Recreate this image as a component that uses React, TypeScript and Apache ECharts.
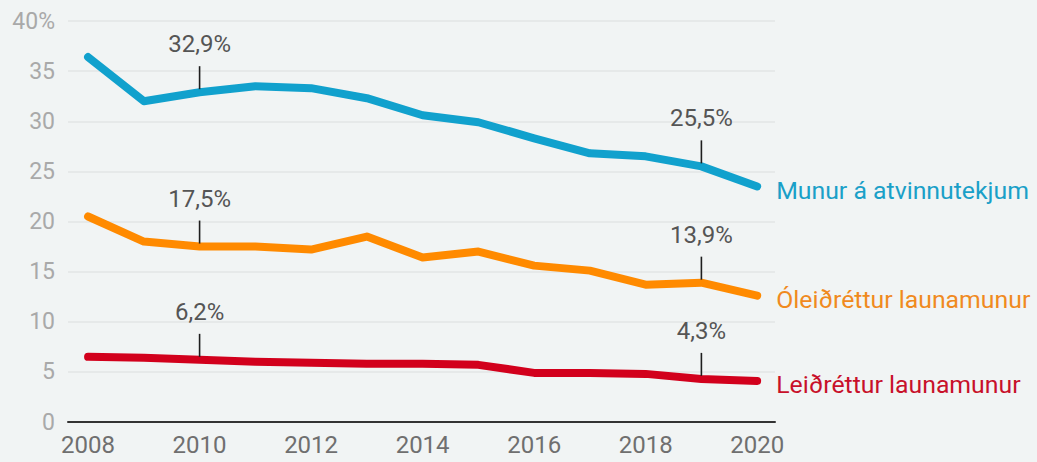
import React, { useEffect, useRef } from "react";
import * as echarts from "echarts";

const years = [2008, 2009, 2010, 2011, 2012, 2013, 2014, 2015, 2016, 2017, 2018, 2019, 2020];
const munurAtvinnutekjum = [36.4, 32.0, 32.9, 33.5, 33.3, 32.3, 30.6, 29.9, 28.3, 26.8, 26.5, 25.5, 23.5];
const oleidretturLaunamunur = [20.5, 18.0, 17.5, 17.5, 17.2, 18.5, 16.4, 17.0, 15.6, 15.1, 13.7, 13.9, 12.6];
const leidretturLaunamunur = [6.5, 6.4, 6.2, 6.0, 5.9, 5.8, 5.8, 5.7, 4.9, 4.9, 4.8, 4.3, 4.1];
const seriesNames = ["Munur á atvinnutekjum", "Óleiðréttur launamunur", "Leiðréttur launamunur"];
const xTickLabels = [2008, 2010, 2012, 2014, 2016, 2018, 2020];
const annotatedYears = [2010, 2019];

const lineColors = ["#11a1cd", "#ff8a00", "#d2001c"];
const labelColors = ["#1aa0c8", "#f08a1e", "#c8102a"];

export default function App() {
  const ref = useRef<HTMLDivElement>(null);
  useEffect(() => {
    if (!ref.current) return;
    const chart = echarts.init(ref.current, null, { renderer: "svg" });
    const allSeries = [munurAtvinnutekjum, oleidretturLaunamunur, leidretturLaunamunur];
    const annotations: { year: number; value: number }[] = [];
    allSeries.forEach((s) => {
      annotatedYears.forEach((y) => {
        annotations.push({ year: y, value: s[years.indexOf(y)] });
      });
    });
    const fmt = (v: number) => v.toFixed(1).replace(".", ",") + "%";

    const lineSeries = allSeries.map((s, i) => ({
      type: "line",
      name: seriesNames[i],
      data: years.map((y, j) => [y, s[j]]),
      showSymbol: false,
      symbol: "none",
      lineStyle: { color: lineColors[i], width: 8, cap: "round", join: "round" },
      itemStyle: { color: lineColors[i] },
      endLabel: {
        show: true,
        formatter: seriesNames[i],
        color: labelColors[i],
        fontSize: 24.8,
        fontFamily: "Roboto",
        offset: [11, 4],
      },
      z: 2,
    }));

    chart.setOption({
      animation: false,
      backgroundColor: "#f1f4f4",
      textStyle: { fontFamily: "Roboto" },
      grid: { left: 68, right: 262, top: 21, bottom: 40, containLabel: false },
      xAxis: {
        type: "value",
        min: 2007.64,
        max: 2020.32,
        axisLine: { show: true, lineStyle: { color: "#333", width: 2 } },
        axisTick: { show: false },
        splitLine: { show: false },
        axisLabel: {
          customValues: xTickLabels,
          formatter: (v: number) => String(v),
          color: "#6f6f6f",
          fontSize: 24,
          margin: 11,
          fontFamily: "Roboto",
        },
      },
      yAxis: {
        type: "value",
        min: 0,
        max: 40,
        interval: 5,
        axisLine: { show: false },
        axisTick: { show: false },
        splitLine: { lineStyle: { color: "#e2e6e6", width: 1.5 } },
        axisLabel: {
          formatter: (v: number) => (v === 40 ? "40%" : String(v)),
          color: "#a9a9a9",
          fontSize: 23,
          margin: 13,
          fontFamily: "Roboto",
        },
      },
      series: [
        ...lineSeries,
        {
          type: "custom",
          data: annotations.map((a) => [a.year, a.value]),
          z: 5,
          renderItem: (params: any, api: any) => {
            const p = api.coord([api.value(0), api.value(1)]);
            const a = annotations[params.dataIndex];
            return {
              type: "group",
              children: [
                {
                  type: "line",
                  shape: { x1: p[0], y1: p[1] - 3, x2: p[0], y2: p[1] - 26 },
                  style: { stroke: "#1e1e1e", lineWidth: 1.6 },
                },
                {
                  type: "text",
                  x: p[0],
                  y: p[1] - 48,
                  style: {
                    text: fmt(a.value),
                    align: "center",
                    verticalAlign: "middle",
                    fontSize: 24,
                    fontFamily: "Roboto",
                    fill: "#555555",
                  },
                },
              ],
            };
          },
        },
      ],
    });
    return () => chart.dispose();
  }, []);
  return (
    <div
      ref={ref}
      style={{ position: "fixed", left: 0, top: 0, width: 1037, height: 462 }}
    />
  );
}
